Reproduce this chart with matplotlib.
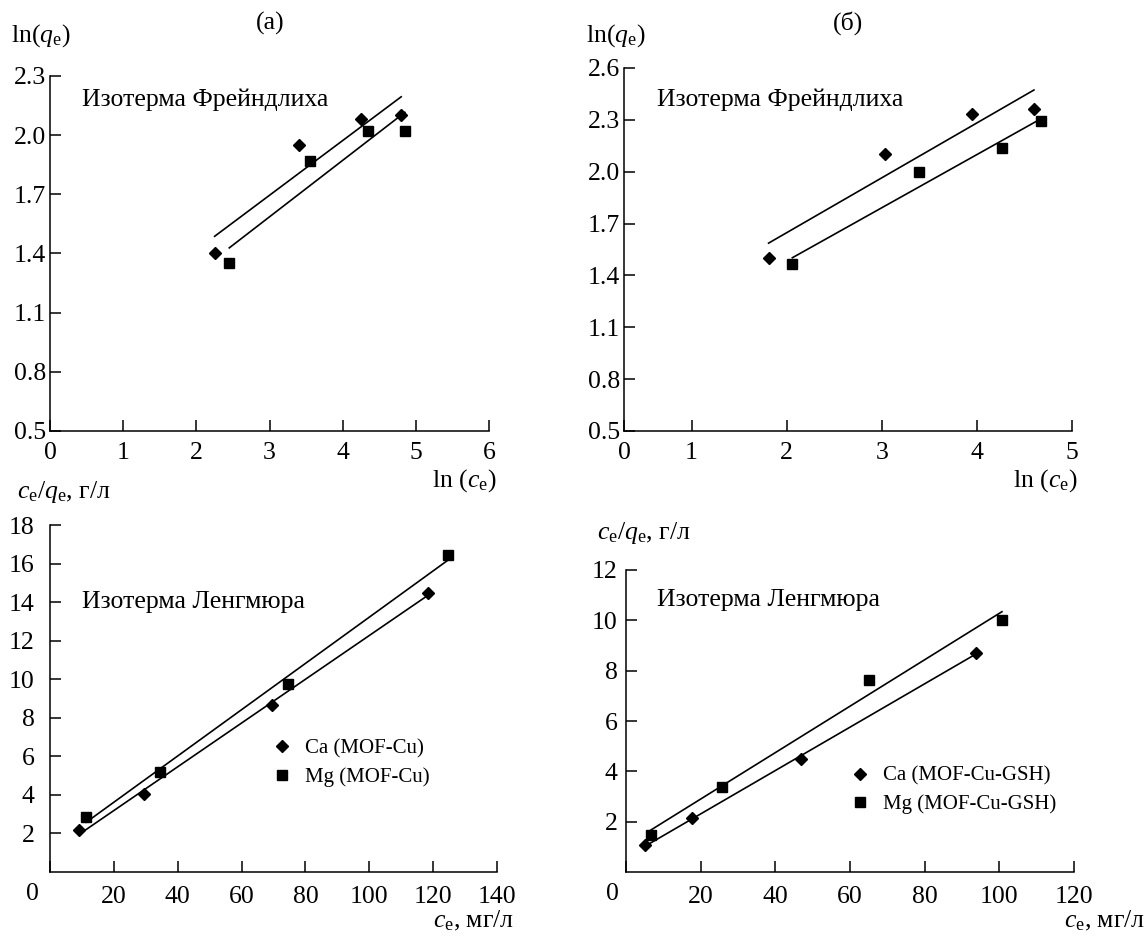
import numpy as np
import matplotlib
matplotlib.use("Agg")
import matplotlib.pyplot as plt
from matplotlib.ticker import FormatStrFormatter

plt.rcParams["font.family"] = ["Liberation Serif", "DejaVu Serif"]
plt.rcParams["mathtext.fontset"] = "custom"
plt.rcParams["mathtext.rm"] = "Liberation Serif"
plt.rcParams["mathtext.it"] = "Liberation Serif:italic"

# Freundlich isotherm, MOF-Cu: ln(ce) vs ln(qe)
fa_ca_x = [2.25, 3.40, 4.25, 4.80]
fa_ca_y = [1.40, 1.95, 2.08, 2.10]
fa_mg_x = [2.45, 3.55, 4.35, 4.85]
fa_mg_y = [1.35, 1.87, 2.02, 2.02]

# Freundlich isotherm, MOF-Cu-GSH
fb_ca_x = [1.81, 3.03, 3.95, 4.60]
fb_ca_y = [1.50, 2.10, 2.335, 2.365]
fb_mg_x = [2.06, 3.39, 4.26, 4.67]
fb_mg_y = [1.465, 2.00, 2.14, 2.293]

# Langmuir isotherm, MOF-Cu: ce vs ce/qe
la_ca_x = [9.2, 29.5, 69.5, 118.4]
la_ca_y = [2.2, 4.06, 8.65, 14.48]
la_mg_x = [11.3, 34.3, 74.4, 124.6]
la_mg_y = [2.86, 5.2, 9.75, 16.42]

# Langmuir isotherm, MOF-Cu-GSH
lb_ca_x = [5.1, 17.8, 46.8, 93.7]
lb_ca_y = [1.06, 2.15, 4.5, 8.71]
lb_mg_x = [6.6, 25.7, 65.1, 100.7]
lb_mg_y = [1.49, 3.38, 7.61, 10.01]

fa_xticks = [0, 1, 2, 3, 4, 5, 6]
f_yticks = [0.5, 0.8, 1.1, 1.4, 1.7, 2.0, 2.3, 2.6]
fb_xticks = [0.29, 1, 2, 3, 4, 5]
fb_xticklabels = ["0", "1", "2", "3", "4", "5"]
la_xticks = [0, 20, 40, 60, 80, 100, 120, 140]
la_yticks = [2, 4, 6, 8, 10, 12, 14, 16, 18]
lb_xticks = [0, 20, 40, 60, 80, 100, 120]
lb_yticks = [2, 4, 6, 8, 10, 12]

labels_a = ["Ca (MOF-Cu)", "Mg (MOF-Cu)"]
labels_b = ["Ca (MOF-Cu-GSH)", "Mg (MOF-Cu-GSH)"]

W, H = 1147, 936
fig = plt.figure(figsize=(W / 100, H / 100), dpi=100)


def box(x0, y0, x1, y1):
    return [x0 / W, 1 - y1 / H, (x1 - x0) / W, (y1 - y0) / H]


def px(x, y):
    return x / W, 1 - y / H


FS = 18.5
LFS = 15


def style(ax):
    for s in ("top", "right"):
        ax.spines[s].set_visible(False)
    for s in ("left", "bottom"):
        ax.spines[s].set_linewidth(1.1)
    ax.tick_params(direction="in", length=8, width=1.1, labelsize=FS)
    ax.tick_params(axis="x", pad=8)
    ax.tick_params(axis="y", pad=3)


def series(ax, x, y, marker, ms, label=None):
    ax.plot(x, y, linestyle="none", marker=marker, ms=ms, color="black",
            label=label, clip_on=False)
    k, b = np.polyfit(x, y, 1)
    xs = np.array([min(x), max(x)])
    ax.plot(xs, k * xs + b, color="black", lw=1.2)


def legend(ax, x, y):
    ax.legend(loc="upper left", bbox_to_anchor=(x, y), frameon=False,
              fontsize=LFS, handlelength=1.0, handletextpad=0.6,
              labelspacing=0.42, borderaxespad=0.0, borderpad=0.0)


# (a) Freundlich, MOF-Cu
ax = fig.add_axes(box(50, 76, 489, 431))
style(ax)
series(ax, fa_ca_x, fa_ca_y, "D", 6.5)
series(ax, fa_mg_x, fa_mg_y, "s", 7.2)
ax.set_xlim(0, 6)
ax.set_ylim(0.5, 2.3)
ax.set_xticks(fa_xticks)
ax.set_yticks(f_yticks[:7])
ax.yaxis.set_major_formatter(FormatStrFormatter("%.1f"))
ax.text((82 - 50) / 439, 1 - (100 - 76) / 355, "Изотерма Фрейндлиха",
        transform=ax.transAxes, fontsize=FS, va="center", ha="left")

# (б) Freundlich, MOF-Cu-GSH
ax = fig.add_axes(box(624, 68, 1072, 431))
style(ax)
series(ax, fb_ca_x, fb_ca_y, "D", 6.5)
series(ax, fb_mg_x, fb_mg_y, "s", 7.2)
ax.set_xlim(0.29, 5)
ax.set_ylim(0.5, 2.6)
ax.set_xticks(fb_xticks)
ax.set_xticklabels(fb_xticklabels)
ax.set_yticks(f_yticks)
ax.yaxis.set_major_formatter(FormatStrFormatter("%.1f"))
ax.text((657 - 624) / 448, 1 - (100 - 68) / 363, "Изотерма Фрейндлиха",
        transform=ax.transAxes, fontsize=FS, va="center", ha="left")

# Langmuir, MOF-Cu
ax = fig.add_axes(box(50, 525, 497, 872))
style(ax)
series(ax, la_ca_x, la_ca_y, "D", 6.5, labels_a[0])
series(ax, la_mg_x, la_mg_y, "s", 7.2, labels_a[1])
ax.set_xlim(0, 140)
ax.set_ylim(0, 18)
ax.set_xticks(la_xticks)
ax.set_xticklabels([""] + [str(v) for v in la_xticks[1:]])
ax.set_yticks(la_yticks)
ax.tick_params(axis="y", pad=11)
ax.tick_params(axis="x", pad=10)
ax.text(-18 / 447, -22 / 347, "0", transform=ax.transAxes, fontsize=FS,
        ha="center", va="center")
ax.text((82 - 50) / 447, 1 - (602 - 525) / 347, "Изотерма Ленгмюра",
        transform=ax.transAxes, fontsize=FS, va="center", ha="left")
legend(ax, 0.495, 0.383)

# Langmuir, MOF-Cu-GSH
ax = fig.add_axes(box(626, 570, 1074, 872))
style(ax)
series(ax, lb_ca_x, lb_ca_y, "D", 6.5, labels_b[0])
series(ax, lb_mg_x, lb_mg_y, "s", 7.2, labels_b[1])
ax.set_xlim(0, 120)
ax.set_ylim(0, 12)
ax.set_xticks(lb_xticks)
ax.set_xticklabels([""] + [str(v) for v in lb_xticks[1:]])
ax.set_yticks(lb_yticks)
ax.tick_params(axis="y", pad=6)
ax.tick_params(axis="x", pad=10)
ax.text(-14 / 448, -22 / 302, "0", transform=ax.transAxes, fontsize=FS,
        ha="center", va="center")
ax.text((657 - 626) / 448, 1 - (600 - 570) / 302, "Изотерма Ленгмюра",
        transform=ax.transAxes, fontsize=FS, va="center", ha="left")
legend(ax, 0.50, 0.35)

# Panel titles and axis captions
fig.text(*px(270, 23), "(a)", fontsize=FS, ha="center", va="center")
fig.text(*px(848, 23), "(б)", fontsize=FS, ha="center", va="center")
fig.text(*px(11, 36), r"ln($q_\mathrm{e}$)", fontsize=FS, ha="left", va="center")
fig.text(*px(586, 36), r"ln($q_\mathrm{e}$)", fontsize=FS, ha="left", va="center")
fig.text(*px(496, 481), r"ln ($c_\mathrm{e}$)", fontsize=FS, ha="right", va="center")
fig.text(*px(1077, 481), r"ln ($c_\mathrm{e}$)", fontsize=FS, ha="right", va="center")
fig.text(*px(17, 492), r"$c_\mathrm{e}/q_\mathrm{e}$, г/л", fontsize=FS, ha="left", va="center")
fig.text(*px(597, 533), r"$c_\mathrm{e}/q_\mathrm{e}$, г/л", fontsize=FS, ha="left", va="center")
fig.text(*px(514, 921), r"$c_\mathrm{e}$, мг/л", fontsize=FS, ha="right", va="center")
fig.text(*px(1145, 921), r"$c_\mathrm{e}$, мг/л", fontsize=FS, ha="right", va="center")

fig.savefig("out.png", dpi=100)
